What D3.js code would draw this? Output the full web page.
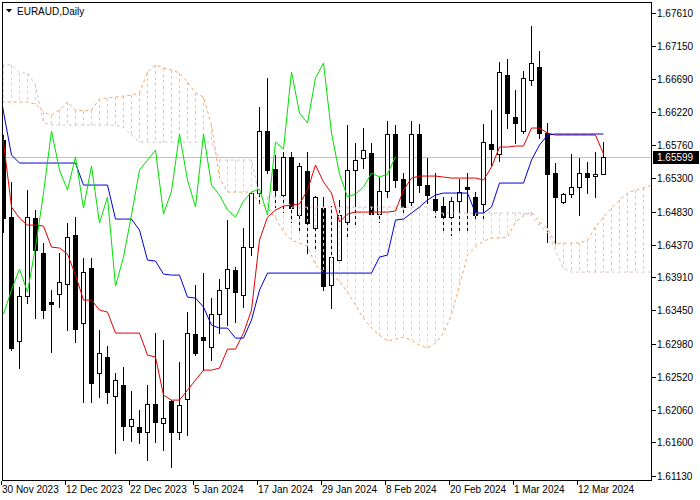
<!DOCTYPE html>
<html><head><meta charset="utf-8">
<script src="https://cdn.jsdelivr.net/npm/d3@7"></script>
<style>
body{margin:0;background:#fff}
svg{display:block}
text{font-family:"Liberation Sans",Arial,sans-serif;font-size:10px}
</style>
</head><body>
<svg id="c" width="700" height="500"></svg>
<script>
// ---------------- data ----------------
const symbolTitle = "EURAUD,Daily";
const dateLabels = ["30 Nov 2023","12 Dec 2023","22 Dec 2023","5 Jan 2024","17 Jan 2024","29 Jan 2024","8 Feb 2024","20 Feb 2024","1 Mar 2024","12 Mar 2024"];
const dateLabelBars = [0,8,16,24,32,40,48,56,64,72];
const priceTicks = [1.67610,1.67150,1.66690,1.66220,1.65760,1.65300,1.64830,1.64370,1.63910,1.63450,1.62980,1.62520,1.62060,1.61600,1.61130];
const lastPrice = 1.65599;

const open = [1.65832,1.64754,1.63018,1.63648,1.64740,1.64250,1.63564,1.63676,1.63816,1.64502,
1.63270,1.64040,1.62570,1.62794,1.62248,1.62402,1.61828,1.61814,1.61744,1.62136,
1.61870,1.62178,1.61744,1.62206,1.63116,1.63074,1.62934,1.63396,1.63760,1.64012,
1.63662,1.64334,1.65090,1.65958,1.65426,1.65062,1.65594,1.64782,1.65398,1.64600,
1.64880,1.63802,1.64152,1.64684,1.65412,1.65580,1.65650,1.64796,1.65118,1.65916,
1.65286,1.64964,1.65916,1.65202,1.65006,1.64908,1.64754,1.64978,1.65174,1.65034,
1.64936,1.65776,1.65636,1.66742,1.66154,1.65958,1.66672,1.66854,1.65930,1.65370,
1.64964,1.65076,1.65174,1.65370,1.65328,1.65356];
const high = [1.65902,1.65244,1.63774,1.65132,1.64852,1.64390,1.63732,1.64250,1.64670,1.64754,
1.64180,1.64180,1.63172,1.62948,1.62570,1.62654,1.62318,1.62052,1.62402,1.63130,
1.63032,1.62192,1.62724,1.63424,1.63802,1.63970,1.63620,1.63886,1.64712,1.64054,
1.64600,1.65132,1.66294,1.66700,1.65622,1.65664,1.65664,1.65510,1.65664,1.65048,
1.65034,1.64908,1.64992,1.66042,1.65790,1.66000,1.65790,1.65314,1.66098,1.66042,
1.65370,1.66098,1.66056,1.65580,1.65370,1.65034,1.65034,1.65286,1.65370,1.65104,
1.66056,1.66252,1.66924,1.66966,1.66532,1.66798,1.67428,1.67078,1.66070,1.65510,
1.65090,1.65636,1.65580,1.65524,1.65664,1.65804];
const low = [1.64544,1.62892,1.62640,1.63550,1.63340,1.63340,1.62864,1.63494,1.63172,1.63004,
1.62164,1.62164,1.62234,1.62150,1.61450,1.61632,1.61618,1.61590,1.61352,1.61604,
1.61492,1.61254,1.61646,1.61702,1.62822,1.62612,1.62752,1.63130,1.63242,1.63284,
1.63494,1.64222,1.64950,1.65370,1.64894,1.64824,1.64684,1.64544,1.64250,1.64320,
1.63732,1.63480,1.64124,1.64474,1.64614,1.65440,1.64782,1.64684,1.65034,1.65174,
1.64782,1.64922,1.65104,1.64950,1.64754,1.64530,1.64502,1.64530,1.64530,1.64712,
1.64712,1.65482,1.65538,1.66000,1.65790,1.65930,1.66602,1.65860,1.64404,1.64348,
1.64950,1.65034,1.64782,1.65090,1.65034,1.65356];
const close = [1.64740,1.62920,1.63648,1.64754,1.64292,1.63452,1.63536,1.63844,1.64474,1.63186,
1.63984,1.62430,1.62850,1.62304,1.62472,1.61828,1.61926,1.61744,1.62136,1.61884,
1.61940,1.61744,1.62122,1.63130,1.62850,1.63032,1.63396,1.63732,1.64026,1.63704,
1.64334,1.65090,1.65958,1.65412,1.65132,1.65594,1.64880,1.65468,1.64670,1.65034,
1.63788,1.64194,1.64782,1.65412,1.65552,1.65692,1.64796,1.65118,1.65916,1.65272,
1.64894,1.65916,1.65202,1.65062,1.64852,1.64754,1.64978,1.65104,1.65146,1.64782,
1.65804,1.65706,1.66784,1.66210,1.66070,1.66700,1.66910,1.65930,1.65356,1.65034,
1.65076,1.65174,1.65370,1.65314,1.65356,1.65599];

// Ichimoku lines (first value belongs to the bar just left of the visible window)
const lineStart = -1;
const tenkan = [1.66742,
1.65804,1.64894,1.64740,1.64642,1.64642,1.64628,1.64334,1.64320,1.64236,1.63942,
1.63592,1.63592,1.63452,1.63424,1.63130,1.63130,1.63130,1.63130,1.62822,1.62794,
1.62262,1.62192,1.62192,1.62332,1.62472,1.62612,1.62612,1.62640,1.62906,1.62906,
1.63130,1.63452,1.64432,1.64754,1.64852,1.64908,1.64922,1.64936,1.65132,1.65482,
1.65244,1.65090,1.64684,1.64796,1.64824,1.64824,1.64824,1.64824,1.64824,1.64838,
1.65132,1.65300,1.65328,1.65328,1.65328,1.65314,1.65300,1.65300,1.65300,1.65300,
1.65272,1.65454,1.65734,1.65734,1.65748,1.65748,1.66000,1.66000,1.65930,1.65902,
1.65902,1.65902,1.65902,1.65902,1.65902,1.65636];
const kijun = [1.66882,
1.66224,1.65622,1.65510,1.65510,1.65510,1.65510,1.65510,1.65510,1.65510,1.65510,
1.65202,1.65202,1.65202,1.65202,1.64726,1.64726,1.64726,1.64572,1.64152,1.64138,
1.63956,1.63942,1.63942,1.63634,1.63620,1.63494,1.63242,1.63200,1.63200,1.63060,
1.63060,1.63312,1.63732,1.63970,1.63970,1.63970,1.63970,1.63970,1.63970,1.63970,
1.63970,1.63970,1.63970,1.63970,1.63970,1.63970,1.63970,1.64194,1.64222,1.64712,
1.64726,1.64810,1.64894,1.64992,1.65062,1.65090,1.65090,1.65090,1.65090,1.64810,
1.64810,1.64894,1.65230,1.65230,1.65230,1.65230,1.65552,1.65762,1.65902,1.65916,
1.65916,1.65916,1.65916,1.65916,1.65916,1.65916];
const chikouShift = 26;

const cloudStart = -1;
const spanA = [1.66364,
1.66364,1.66364,1.66364,1.66364,1.66336,1.66224,1.66182,1.66252,1.66364,1.66252,
1.66238,1.66252,1.66406,1.66420,1.66434,1.66448,1.66462,1.66490,1.66784,1.66882,
1.66840,1.66812,1.66770,1.66644,1.66490,1.66434,1.66042,1.65300,1.65104,1.65104,
1.65104,1.65104,1.64950,1.64880,1.64740,1.64544,1.64432,1.64390,1.64348,1.64082,
1.63984,1.63942,1.63858,1.63704,1.63522,1.63340,1.63200,1.63102,1.63018,1.63046,
1.63074,1.63032,1.62962,1.62920,1.62990,1.63130,1.63382,1.63802,1.64222,1.64334,
1.64418,1.64460,1.64460,1.64474,1.64684,1.64768,1.64824,1.64684,1.64600,1.64376,
1.64390,1.64390,1.64390,1.64432,1.64614,1.64754,1.64880,1.64992,1.65090,1.65132,
1.65160,1.65202];
const spanB = [1.66882,
1.66882,1.66882,1.66770,1.66770,1.66602,1.66070,1.66042,1.66042,1.66042,1.66042,
1.66042,1.66042,1.66042,1.66042,1.66042,1.66014,1.65902,1.65804,1.65804,1.65804,
1.65804,1.65804,1.65804,1.65804,1.65804,1.65804,1.65804,1.65552,1.65552,1.65552,
1.65552,1.65552,1.65034,1.65034,1.65034,1.65034,1.64894,1.64894,1.64894,1.64894,
1.64894,1.64894,1.64894,1.64894,1.64894,1.64894,1.64894,1.64894,1.64894,1.64894,
1.64894,1.64894,1.64894,1.64894,1.64810,1.64810,1.64810,1.64810,1.64810,1.64810,
1.64810,1.64810,1.64810,1.64810,1.64810,1.64810,1.64782,1.64628,1.64544,1.64292,
1.64040,1.63984,1.63984,1.63984,1.63984,1.63984,1.63984,1.63984,1.63984,1.63984,
1.63984,1.63984];

// ---------------- drawing ----------------
const colors = {tenkan:"#e00000", kijun:"#0000d0", chikou:"#00e000",
  up:"#f4a460", down:"#d8bfd8", upHatch:"#f6c29c", downHatch:"#e2cde2", bid:"#c0c0c0"};
const frame = {l:2, r:651, t:2, b:480};
const svg = d3.select("#c");
const x = d3.scaleLinear().domain([0, 75]).range([3.5, 603.5]);
const y = d3.scaleLinear().domain([1.61130, 1.67610]).range([476, 13]);
const ry = v => Math.round(y(v));

svg.append("defs").append("clipPath").attr("id","clip")
  .append("rect").attr("x",frame.l).attr("y",frame.t)
  .attr("width",frame.r-frame.l).attr("height",frame.b-frame.t);
const g = svg.append("g").attr("clip-path","url(#clip)");

// bid line
g.append("line").attr("x1",frame.l).attr("x2",frame.r)
  .attr("y1",ry(lastPrice)+0.5).attr("y2",ry(lastPrice)+0.5)
  .attr("stroke",colors.bid).attr("stroke-width",1).attr("shape-rendering","crispEdges");

// candles
const bars = d3.range(open.length).map(i => ({i, o:open[i], h:high[i], l:low[i], c:close[i]}));
const cg = g.append("g").attr("shape-rendering","crispEdges");
cg.selectAll("line.wick").data(bars).join("line").attr("class","wick")
  .attr("x1",d=>x(d.i)).attr("x2",d=>x(d.i))
  .attr("y1",d=>ry(d.h)).attr("y2",d=>ry(d.l)+1)
  .attr("stroke","#000").attr("stroke-width",1);
cg.selectAll("rect.body").data(bars).join("rect").attr("class","body")
  .attr("x",d=>x(d.i)-2).attr("width",4)
  .attr("y",d=>ry(Math.max(d.o,d.c))+0.5)
  .attr("height",d=>Math.max(0, ry(Math.min(d.o,d.c)) - ry(Math.max(d.o,d.c))))
  .attr("fill",d=>d.c>=d.o ? "#fff" : "#000")
  .attr("stroke","#000").attr("stroke-width",1);

// cloud hatch (dotted vertical lines at each bar)
const cloud = spanA.map((a,k) => ({i:k+cloudStart, a, b:spanB[k]}));
const hg = g.append("g").attr("shape-rendering","crispEdges");
hg.selectAll("line").data(cloud).join("line")
  .attr("x1",d=>x(d.i)).attr("x2",d=>x(d.i))
  .attr("y1",d=>ry(Math.max(d.a,d.b))).attr("y2",d=>ry(Math.min(d.a,d.b)))
  .attr("stroke",d=>d.a>=d.b ? colors.upHatch : colors.downHatch)
  .attr("stroke-width",1).attr("stroke-dasharray","3,3");

// cloud boundary lines
const cl = d3.line().x(d=>x(d.i)).y(d=>y(d.v));
g.append("path").datum(cloud.map(d=>({i:d.i, v:d.a})))
  .attr("d",cl).attr("fill","none").attr("stroke",colors.up).attr("stroke-width",1).attr("stroke-dasharray","3,3");
g.append("path").datum(cloud.map(d=>({i:d.i, v:d.b})))
  .attr("d",cl).attr("fill","none").attr("stroke",colors.down).attr("stroke-width",1).attr("stroke-dasharray","3,3");

// tenkan / kijun / chikou
g.append("path").datum(tenkan.map((v,k)=>({i:k+lineStart, v})))
  .attr("d",cl).attr("fill","none").attr("stroke",colors.tenkan).attr("stroke-width",1);
g.append("path").datum(kijun.map((v,k)=>({i:k+lineStart, v})))
  .attr("d",cl).attr("fill","none").attr("stroke",colors.kijun).attr("stroke-width",1);
const chikou = close.slice(chikouShift).map((v,k)=>({i:k, v}));
g.append("path").datum(chikou)
  .attr("d",cl).attr("fill","none").attr("stroke",colors.chikou).attr("stroke-width",1);

// frame
svg.append("rect").attr("x",frame.l+0.5).attr("y",frame.t+0.5)
  .attr("width",frame.r-frame.l).attr("height",frame.b-frame.t)
  .attr("fill","none").attr("stroke","#000").attr("stroke-width",1).attr("shape-rendering","crispEdges");

// right price axis
const ax = svg.append("g");
ax.selectAll("line").data(priceTicks).join("line")
  .attr("x1",frame.r+1).attr("x2",frame.r+5)
  .attr("y1",d=>ry(d)+0.5).attr("y2",d=>ry(d)+0.5)
  .attr("stroke","#000").attr("shape-rendering","crispEdges");
ax.selectAll("text").data(priceTicks).join("text")
  .attr("x",frame.r+6).attr("y",d=>ry(d)+4)
  .attr("fill","#000").text(d=>d.toFixed(5));

// last price tag
const lp = ry(lastPrice);
svg.append("rect").attr("x",frame.r+2).attr("y",lp-6).attr("width",46).attr("height",13).attr("fill","#000");
svg.append("text").attr("x",frame.r+6).attr("y",lp+4).attr("fill","#fff").text(lastPrice.toFixed(5));

// bottom date axis
const bx = svg.append("g");
bx.selectAll("line").data(dateLabelBars).join("line")
  .attr("x1",d=>Math.floor(x(d))-1.5).attr("x2",d=>Math.floor(x(d))-1.5)
  .attr("y1",frame.b+1).attr("y2",frame.b+5)
  .attr("stroke","#000").attr("shape-rendering","crispEdges");
bx.selectAll("text").data(dateLabelBars).join("text")
  .attr("x",d=>x(d)-1.5).attr("y",frame.b+13)
  .attr("fill","#000").text((d,k)=>dateLabels[k]);

// title
svg.append("path").attr("d","M6,9 L12,9 L9,12.5 Z").attr("fill","#000");
svg.append("text").attr("x",17).attr("y",15).attr("fill","#000").text(symbolTitle);
</script>
</body></html>
